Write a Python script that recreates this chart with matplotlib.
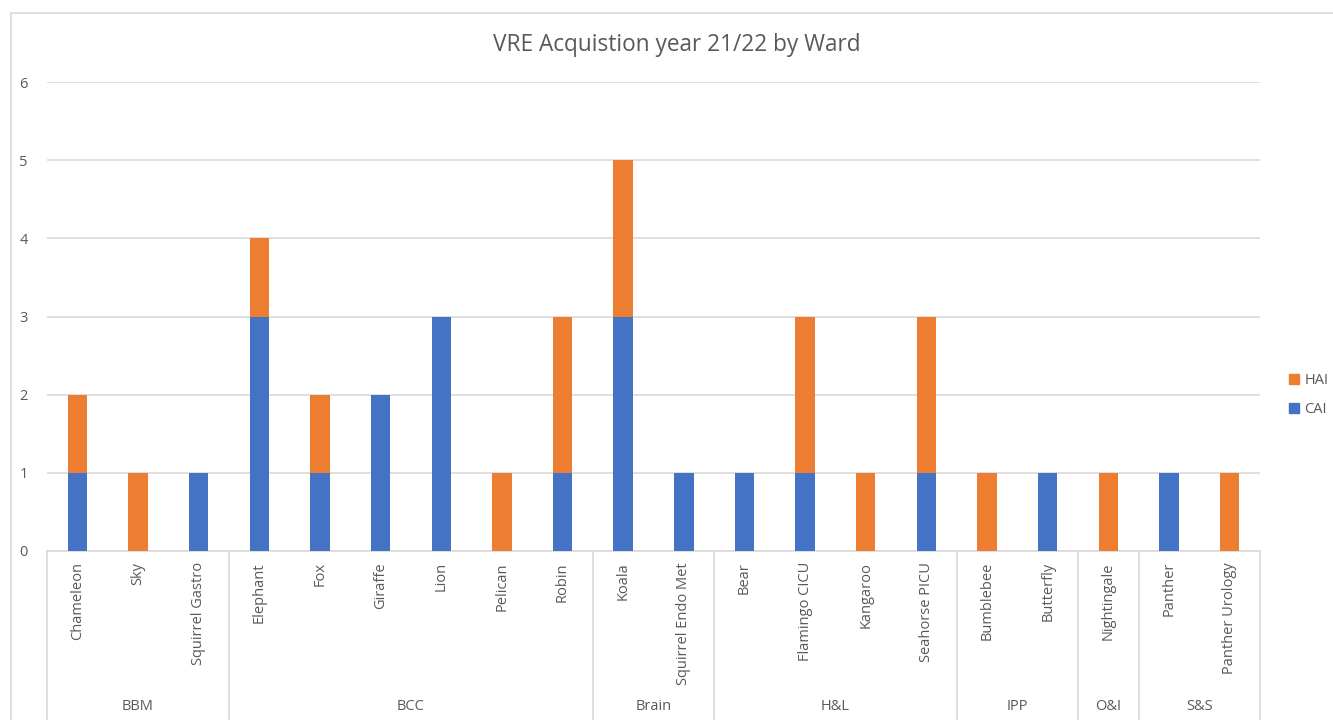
import matplotlib
matplotlib.use("Agg")
import matplotlib.pyplot as plt
import matplotlib.transforms as mtransforms
from matplotlib.patches import Rectangle, Patch
import numpy as np

wards = ["Chameleon", "Sky", "Squirrel Gastro", "Elephant", "Fox", "Giraffe", "Lion",
         "Pelican", "Robin", "Koala", "Squirrel Endo Met", "Bear", "Flamingo CICU",
         "Kangaroo", "Seahorse PICU", "Bumblebee", "Butterfly", "Nightingale",
         "Panther", "Panther Urology"]
cai = [1, 0, 1, 3, 1, 2, 3, 0, 1, 3, 1, 1, 1, 0, 1, 0, 1, 0, 1, 0]
hai = [1, 1, 0, 1, 1, 0, 0, 1, 2, 2, 0, 0, 2, 1, 2, 1, 0, 1, 0, 1]
groups = ["BBM", "BCC", "Brain", "H&L", "IPP", "O&I", "S&S"]
group_sizes = [3, 6, 2, 4, 2, 1, 2]

plt.rcParams['font.family'] = ['Open Sans', 'DejaVu Sans']
TXT = "#595959"
GRID = "#D9D9D9"
BLUE = "#4472C4"
ORANGE = "#ED7D31"

W, H = 1333, 720
fig = plt.figure(figsize=(W / 100, H / 100), dpi=100)
ax = fig.add_axes([47 / W, (H - 551) / H, (1260 - 47) / W, (551 - 82) / H])

x = np.arange(len(wards))
ax.bar(x, cai, width=0.32, color=BLUE, label="CAI", zorder=3)
ax.bar(x, hai, width=0.32, bottom=cai, color=ORANGE, label="HAI", zorder=3)

ax.set_xlim(-0.5, len(wards) - 0.5)
ax.set_ylim(0, 6)
ax.set_yticks(range(0, 7))
ax.yaxis.grid(True, color=GRID, linewidth=1.2, zorder=0)
ax.set_axisbelow(True)
for s in ["top", "right", "left"]:
    ax.spines[s].set_visible(False)
ax.spines["bottom"].set_color(GRID)
ax.spines["bottom"].set_linewidth(1.2)
ax.tick_params(axis="y", length=0, pad=14, labelsize=10.5, labelcolor=TXT)
ax.set_xticks(x)
ax.set_xticklabels(wards, rotation=90, fontsize=10.5, color=TXT)
ax.tick_params(axis="x", length=0, pad=8)

# group separators and labels
trans = mtransforms.blended_transform_factory(ax.transData, fig.transFigure)
bounds = np.concatenate([[0], np.cumsum(group_sizes)]) - 0.5
for b in bounds:
    ax.plot([b, b], [(H - 551) / H, 0], color=GRID, linewidth=1.2,
            transform=trans, clip_on=False)
for g, lo, hi in zip(groups, bounds[:-1], bounds[1:]):
    ax.text((lo + hi) / 2, (H - 707) / H, g, transform=trans, ha="center",
            va="center", fontsize=10.5, color=TXT)

# chart frame
fig.patches.append(Rectangle((11 / W, -0.1), 1.2, 1 - 13 / H + 0.1,
                             transform=fig.transFigure, fill=False,
                             edgecolor=GRID, linewidth=1.2))

fig.text(677 / W, 1 - 45 / H, "VRE Acquistion year 21/22 by Ward",
         ha="center", va="center", fontsize=16.3, color=TXT)

handles = [Patch(color=ORANGE, label="HAI"), Patch(color=BLUE, label="CAI")]
fig.legend(handles=handles, loc="center left", bbox_to_anchor=(1289 / W, 1 - 395 / H),
           frameon=False, fontsize=10.5, labelcolor=TXT, handlelength=0.7,
           handleheight=0.7, handletextpad=0.35, labelspacing=1.0,
           borderpad=0, borderaxespad=0)

fig.savefig("out.png", dpi=100)
